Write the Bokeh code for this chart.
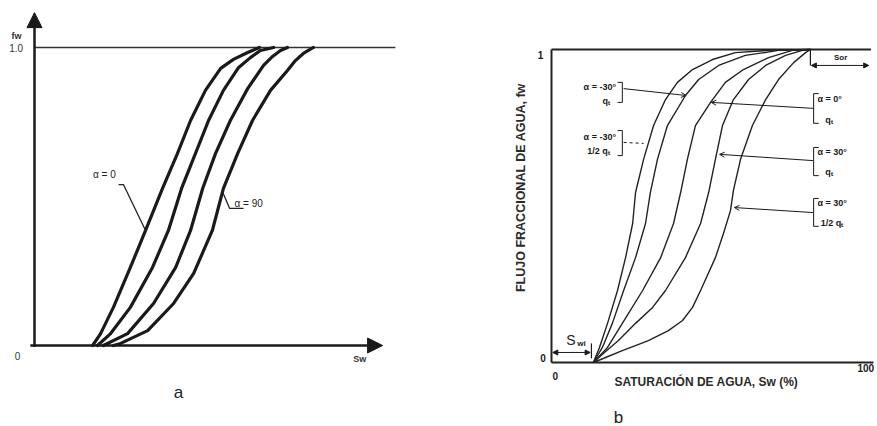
import math
from bokeh.plotting import figure
from bokeh.layouts import row
from bokeh.models import Range1d, Arrow, NormalHead, OpenHead
from bokeh.core.properties import value
from bokeh.embed import file_html
from bokeh.resources import INLINE

# ---------------- Panel a: fractional flow curves (Sw fraction, fw) ----------------
A_SW_ALPHA0 = [0.168, 0.191, 0.228, 0.277, 0.321, 0.370, 0.413, 0.451, 0.494, 0.538, 0.575, 0.616, 0.650]
A_FW_ALPHA0 = [0.0, 0.040, 0.128, 0.262, 0.386, 0.527, 0.644, 0.755, 0.856, 0.930, 0.960, 0.983, 1.0]
A_SW_ALPHA30 = [0.182, 0.220, 0.277, 0.341, 0.387, 0.425, 0.465, 0.503, 0.546, 0.590, 0.624, 0.653, 0.691]
A_FW_ALPHA30 = [0.0, 0.040, 0.128, 0.262, 0.386, 0.527, 0.644, 0.755, 0.856, 0.933, 0.966, 0.990, 1.0]
A_SW_ALPHA60 = [0.199, 0.269, 0.344, 0.408, 0.451, 0.486, 0.523, 0.566, 0.616, 0.662, 0.688, 0.711, 0.731]
A_FW_ALPHA60 = [0.0, 0.040, 0.141, 0.262, 0.386, 0.527, 0.644, 0.755, 0.862, 0.940, 0.970, 0.990, 1.0]
A_SW_ALPHA90 = [0.228, 0.249, 0.327, 0.402, 0.460, 0.514, 0.546, 0.587, 0.630, 0.682, 0.731, 0.754, 0.777, 0.806]
A_FW_ALPHA90 = [0.0, 0.007, 0.050, 0.141, 0.242, 0.386, 0.527, 0.644, 0.755, 0.856, 0.923, 0.956, 0.980, 1.0]

# ---------------- Panel b: fractional flow vs water saturation (Sw %, fw) ----------------
B_SW_M30_HALF = [13.0, 14.9, 17.4, 20.5, 23.0, 25.2, 26.1, 28.6, 31.7, 35.4, 39.1, 43.8, 50.0, 57.1, 68.6, 80.4]
B_FW_M30_HALF = [0.0, 0.048, 0.125, 0.230, 0.335, 0.444, 0.543, 0.649, 0.757, 0.840, 0.895, 0.936, 0.968, 0.990, 0.998, 1.0]
B_SW_M30_Q = [13.0, 15.8, 18.9, 22.4, 26.1, 29.2, 30.7, 32.9, 36.0, 41.6, 45.7, 51.9, 60.2, 70.5, 80.4]
B_FW_M30_Q = [0.0, 0.048, 0.125, 0.230, 0.335, 0.444, 0.543, 0.649, 0.757, 0.853, 0.904, 0.949, 0.981, 0.997, 1.0]
B_SW_0_Q = [13.0, 17.4, 22.0, 28.3, 33.9, 37.9, 40.1, 42.2, 44.7, 49.4, 54.0, 59.6, 67.4, 74.8, 80.4]
B_FW_0_Q = [0.0, 0.048, 0.125, 0.230, 0.335, 0.444, 0.543, 0.649, 0.757, 0.831, 0.895, 0.936, 0.974, 0.997, 1.0]
B_SW_P30_Q = [13.0, 16.1, 20.8, 26.1, 31.4, 35.4, 41.6, 46.3, 48.8, 50.9, 53.1, 56.5, 61.2, 66.5, 72.7, 77.9, 80.4]
B_FW_P30_Q = [0.0, 0.029, 0.070, 0.125, 0.176, 0.230, 0.335, 0.444, 0.543, 0.649, 0.757, 0.840, 0.904, 0.949, 0.981, 0.997, 1.0]
B_SW_P30_HALF = [13.0, 16.8, 22.0, 30.1, 36.3, 40.7, 43.8, 46.3, 50.9, 53.4, 55.6, 56.5, 58.7, 62.4, 66.5, 70.5, 75.2, 78.9, 80.4]
B_FW_P30_HALF = [0.0, 0.016, 0.038, 0.070, 0.102, 0.134, 0.176, 0.230, 0.335, 0.412, 0.486, 0.550, 0.649, 0.757, 0.840, 0.904, 0.958, 0.990, 1.0]

SWI = 12.4
SOR_START = 80.4

FONT = value("Liberation Sans")
INK = "#1a1a1a"


def make_fig(w, h, xr, yr):
    p = figure(width=w, height=h, x_range=Range1d(*xr), y_range=Range1d(*yr),
               output_backend="svg", toolbar_location=None,
               x_axis_location=None, y_axis_location=None, min_border=0)
    p.grid.visible = False
    p.outline_line_color = None
    p.background_fill_color = "white"
    p.border_fill_color = "white"
    return p


def txt(p, x, y, s, size="9px", align="center", baseline="middle", bold=False, angle=0.0, color=INK):
    p.text(x=[x], y=[y], text=[s], text_font=FONT, text_font_size=size,
           text_align=align, text_baseline=baseline, angle=angle, text_color=color,
           text_font_style="bold" if bold else "normal")


# ================= Panel a =================
pa = make_fig(440, 426, (-0.0983, 1.1734), (-0.2718, 1.1577))

pa.add_layout(Arrow(end=NormalHead(size=15, fill_color=INK, line_color=INK),
                    x_start=0, y_start=-0.005, x_end=0, y_end=1.117,
                    line_width=2.5, line_color=INK))
pa.add_layout(Arrow(end=NormalHead(size=15, fill_color=INK, line_color=INK),
                    x_start=-0.012, y_start=0, x_end=1.006, y_end=0,
                    line_width=2.5, line_color=INK))
pa.segment(x0=[0], y0=[1.0], x1=[1.043], y1=[1.0], line_width=1.6, line_color="#333333")

for xs, ys in [(A_SW_ALPHA0, A_FW_ALPHA0), (A_SW_ALPHA30, A_FW_ALPHA30),
               (A_SW_ALPHA60, A_FW_ALPHA60), (A_SW_ALPHA90, A_FW_ALPHA90)]:
    pa.line(xs, ys, line_width=3.2, line_color=INK, line_join="round", line_cap="round")

txt(pa, -0.052, 1.04, "fw", size="9px", bold=True, color="#333333")
txt(pa, -0.053, 0.997, "1.0", size="10px", color="#333333")
txt(pa, -0.049, -0.035, "0", size="10px", color="#333333")
txt(pa, 0.94, -0.044, "Sw", size="9px", bold=True, color="#333333")

txt(pa, 0.202, 0.574, "α = 0", size="10px", color="#222222")
pa.line([0.243, 0.257, 0.321], [0.540, 0.540, 0.386], line_width=1.3, line_color="#222222")
txt(pa, 0.578, 0.477, "α = 90", size="10px", align="left", color="#222222")
pa.line([0.543, 0.564, 0.604], [0.517, 0.460, 0.460], line_width=1.3, line_color="#222222")

txt(pa, 0.416, -0.158, "a", size="17px", color="#222222")

# ================= Panel b =================
pb = make_fig(437, 426, (-34.47, 101.24), (-0.2045, 1.1565))

pb.segment(x0=[0, 0, 0], y0=[0, 0, 1.0], x1=[0, 100, 99.2], y1=[1.0, 0, 1.0],
           line_width=2.0, line_color="#222222")

for xs, ys in [(B_SW_M30_HALF, B_FW_M30_HALF), (B_SW_M30_Q, B_FW_M30_Q), (B_SW_0_Q, B_FW_0_Q),
               (B_SW_P30_Q, B_FW_P30_Q), (B_SW_P30_HALF, B_FW_P30_HALF)]:
    pb.line(xs, ys, line_width=1.4, line_color="#222222", line_join="round")

txt(pb, -3.4, 0.981, "1", size="10px", bold=True)
txt(pb, -2.6, 0.013, "0", size="10px", bold=True)
txt(pb, 1.2, -0.042, "0", size="10px", bold=True)
txt(pb, 97.6, -0.019, "100", size="10px", bold=True)

txt(pb, 48.1, -0.061, "SATURACIÓN DE AGUA, Sw (%)", size="12px", bold=True, color="#2a2a2a")
txt(pb, -9.6, 0.559, "FLUJO FRACCIONAL DE AGUA, fw", size="12.5px", bold=True,
    angle=math.pi / 2, color="#2a2a2a")

# S_wi marker
txt(pb, 6.0, 0.072, "S", size="14px", color="#222222")
txt(pb, 9.3, 0.060, "wi", size="8px", bold=True, color="#222222")
pb.add_layout(Arrow(start=NormalHead(size=5, fill_color=INK, line_color=INK),
                    end=NormalHead(size=5, fill_color=INK, line_color=INK),
                    x_start=0.4, y_start=0.032, x_end=SWI - 0.4, y_end=0.032,
                    line_width=1.0, line_color=INK))
pb.segment(x0=[SWI], y0=[0.013], x1=[SWI], y1=[0.061], line_width=1.2, line_color=INK)

# S_or marker
pb.segment(x0=[SOR_START], y0=[1.0], x1=[SOR_START], y1=[0.949], line_width=1.2, line_color=INK)
pb.add_layout(Arrow(start=NormalHead(size=5, fill_color=INK, line_color=INK),
                    end=NormalHead(size=5, fill_color=INK, line_color=INK),
                    x_start=SOR_START + 0.3, y_start=0.949, x_end=98.5, y_end=0.949,
                    line_width=1.0, line_color=INK))
txt(pb, 89.8, 0.975, "Sor", size="8px", bold=True)

LBL = "9px"
# left labels
txt(pb, 15.0, 0.879, "α = -30°", size=LBL, bold=True)
txt(pb, 17.0, 0.835, "qₜ", size=LBL, bold=True)
pb.segment(x0=[22.0, 20.5, 20.5], y0=[0.895, 0.895, 0.831], x1=[22.0, 22.0, 22.0], y1=[0.831, 0.895, 0.831],
           line_width=1.0, line_color=INK)
pb.add_layout(Arrow(end=OpenHead(size=5, line_color=INK, line_width=1),
                    x_start=22.4, y_start=0.875, x_end=41.8, y_end=0.853,
                    line_width=1.0, line_color=INK))

txt(pb, 15.0, 0.719, "α = -30°", size=LBL, bold=True)
txt(pb, 14.6, 0.676, "1/2 qₜ", size=LBL, bold=True)
pb.segment(x0=[22.0, 20.5, 20.5], y0=[0.741, 0.741, 0.661], x1=[22.0, 22.0, 22.0], y1=[0.661, 0.741, 0.661],
           line_width=1.0, line_color=INK)
pb.line([22.4, 28.6], [0.703, 0.700], line_width=1.0, line_color=INK, line_dash="3 3")

# right labels
for (ytop, ybot, ylead, xcurve, ycurve, l1, l2) in [
        (0.859, 0.764, 0.812, 49.6, 0.831, "α = 0°", "qₜ"),
        (0.687, 0.597, 0.645, 52.2, 0.665, "α = 30°", "qₜ"),
        (0.524, 0.435, 0.479, 56.8, 0.495, "α = 30°", "1/2 qₜ")]:
    pb.segment(x0=[81.4, 81.4, 81.4], y0=[ytop, ytop, ybot], x1=[81.4, 83.0, 83.0], y1=[ybot, ytop, ybot],
               line_width=1.0, line_color=INK)
    txt(pb, 82.6, ytop - 0.016, l1, size=LBL, align="left", bold=True)
    txt(pb, 85.0 if l2 == "qₜ" else 83.6, ybot + 0.012, l2, size=LBL, align="left", bold=True)
    pb.add_layout(Arrow(end=OpenHead(size=5, line_color=INK, line_width=1),
                        x_start=81.2, y_start=ylead, x_end=xcurve, y_end=ycurve,
                        line_width=1.0, line_color=INK))

txt(pb, 20.8, -0.176, "b", size="17px", color="#222222")

layout = row(pa, pb)
open("out.html", "w").write(file_html(layout, INLINE))
